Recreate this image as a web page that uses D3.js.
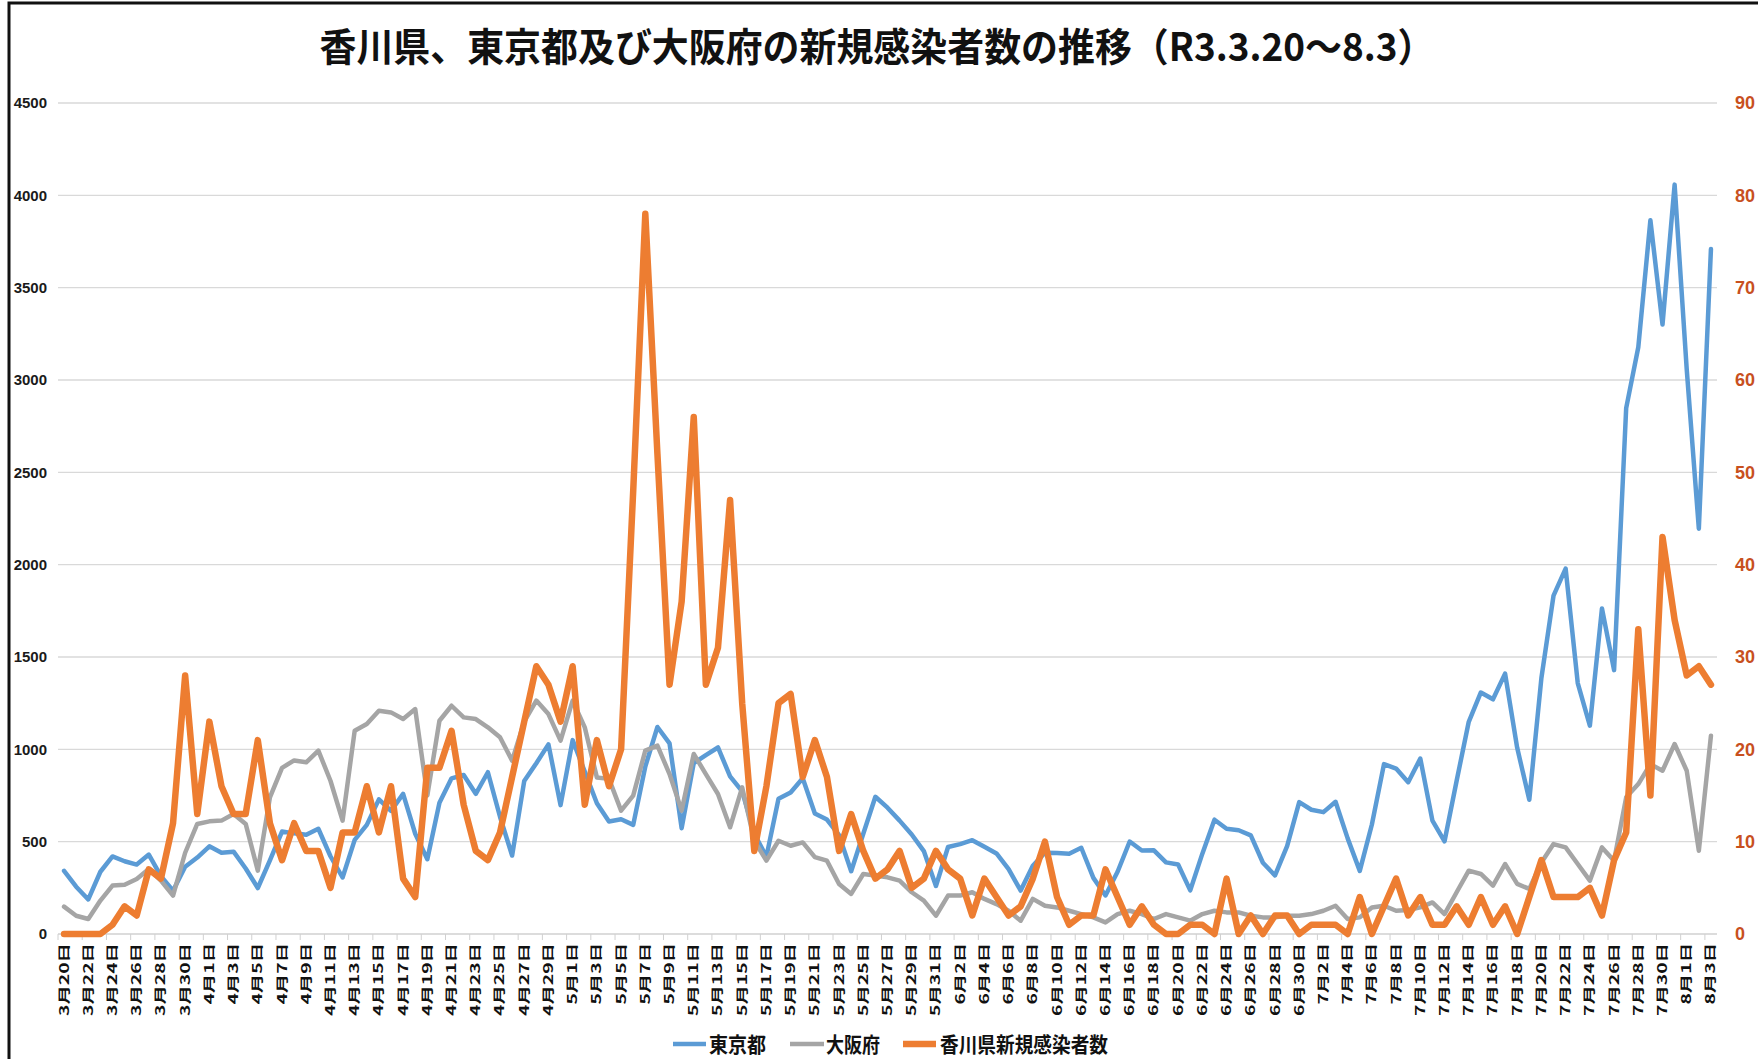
<!DOCTYPE html>
<html><head><meta charset="utf-8">
<script src="https://cdn.jsdelivr.net/npm/d3@7"></script>
<style>body{margin:0;background:#fff} svg{display:block}</style>
</head><body><svg id="c" width="1758" height="1059"></svg>
<script>
const title = "香川県、東京都及び大阪府の新規感染者数の推移（R3.3.20～8.3）";
const monthSpans = [[3,20,31],[4,1,30],[5,1,31],[6,1,30],[7,1,31],[8,1,3]];
const categories = monthSpans.flatMap(([m,a,b]) => d3.range(a,b+1).map(d => `${m}月${d}日`));
const seriesNames = ["東京都","大阪府","香川県新規感染者数"];
const tokyo = [342,256,187,337,420,394,376,430,313,234,364,414,
 475,440,446,355,249,399,555,545,537,570,421,306,510,591,729,667,759,543,405,711,843,861,759,876,635,425,828,925,1027,698,
 1050,879,708,609,621,591,907,1121,1032,573,925,969,1010,854,772,542,419,732,766,843,652,620,535,340,543,743,684,614,539,449,260,
 471,487,508,472,436,351,235,369,440,439,435,467,304,209,337,501,452,453,388,376,236,435,619,570,562,534,386,317,476,714,
 673,660,716,518,342,593,920,896,822,950,614,502,830,1149,1308,1271,1410,1008,727,1387,1832,1979,1359,1128,1763,1429,2848,3177,3865,3300,4058,
 3058,2195,3709];
const osaka = [148,99,81,181,262,267,298,352,289,208,440,596,
 610,614,650,596,343,740,900,940,930,993,830,614,1101,1137,1209,1200,1164,1218,750,1155,1236,1173,1164,1119,1065,939,1150,1264,1191,1047,
 1264,1119,848,840,668,749,993,1020,866,668,975,866,758,578,794,505,397,505,478,496,416,397,271,217,325,316,307,289,226,181,99,
 208,208,226,190,162,126,72,190,153,144,126,108,90,63,108,126,108,81,108,90,72,108,126,117,117,99,90,90,99,99,
 108,126,153,81,90,144,153,126,130,144,171,108,226,343,325,262,379,271,244,387,487,469,379,289,469,397,740,812,920,884,1029,
 884,451,1074];
const kagawa = [0,0,0,0,1,3,2,7,6,12,28,13,
 23,16,13,13,21,12,8,12,9,9,5,11,11,16,11,16,6,4,18,18,22,14,9,8,11,17,23,29,27,23,
 29,14,21,16,20,48,78,52,27,36,56,27,31,47,25,9,16,25,26,17,21,17,9,13,9,6,7,9,5,6,9,
 7,6,2,6,4,2,3,6,10,4,1,2,2,7,4,1,3,1,0,0,1,1,0,6,0,2,0,2,2,0,
 1,1,1,0,4,0,3,6,2,4,1,1,3,1,4,1,3,0,4,8,4,4,4,5,2,8,11,33,15,43,34,
 28,29,27];
const leftTicks = d3.range(0, 4501, 500);
const rightTicks = d3.range(0, 91, 10);
const colors = ["#5B9BD5","#A5A5A5","#ED7D31"];

const svg = d3.select("#c");
// frame
svg.append("rect").attr("x",9).attr("y",3).attr("width",1800).attr("height",1100)
  .attr("fill","none").attr("stroke","#111").attr("stroke-width",3);

const x = d3.scalePoint().domain(categories).range([58,1717]).padding(0.5);
const yL = d3.scaleLinear().domain([0,4500]).range([934,103]);
const yR = d3.scaleLinear().domain([0,90]).range([934,103]);

// title
svg.append("text").attr("x",877).attr("y",61).attr("text-anchor","middle")
  .attr("font-family","'Noto Sans CJK JP','Noto Sans',sans-serif").attr("font-weight","bold")
  .attr("font-size",39).attr("fill","#111")
  .attr("textLength",1115).attr("lengthAdjust","spacingAndGlyphs").text(title);

// gridlines
svg.append("g").selectAll("line").data(leftTicks.slice(1)).join("line")
  .attr("x1",58).attr("x2",1717).attr("y1",d=>yL(d)).attr("y2",d=>yL(d))
  .attr("stroke","#D9D9D9").attr("stroke-width",1.3);
// x axis line
svg.append("line").attr("x1",58).attr("x2",1717).attr("y1",yL(0)).attr("y2",yL(0))
  .attr("stroke","#D0D0D0").attr("stroke-width",1.3);
const step = x.step();
svg.append("g").selectAll("line").data(d3.range(0, categories.length+1, 2)).join("line")
  .attr("x1",i=>58+i*step).attr("x2",i=>58+i*step).attr("y1",yL(0)).attr("y2",yL(0)+6)
  .attr("stroke","#D0D0D0").attr("stroke-width",1);

// left tick labels
svg.append("g").selectAll("text").data(leftTicks).join("text")
  .attr("x",47).attr("y",d=>yL(d)).attr("dy","0.35em").attr("text-anchor","end")
  .attr("font-family","'Liberation Sans',Arial,sans-serif")
  .attr("font-weight","bold").attr("font-size",15).attr("fill","#1a1a1a").text(d=>d);
// right tick labels
svg.append("g").selectAll("text").data(rightTicks).join("text")
  .attr("x",1735).attr("y",d=>yR(d)).attr("dy","0.35em").attr("text-anchor","start")
  .attr("font-family","'Liberation Sans',Arial,sans-serif")
  .attr("font-weight","bold").attr("font-size",18).attr("fill","#C8501E").text(d=>d);

// x labels every 2 categories
svg.append("g").selectAll("text").data(categories.filter((c,i)=>i%2===0)).join("text")
  .attr("transform",d=>`translate(${x(d)+4.5},943) rotate(-90) scale(1.55,1)`)
  .attr("text-anchor","end")
  .attr("font-family","'Noto Sans CJK JP',sans-serif").attr("font-weight","bold")
  .attr("font-size",12.5).attr("fill","#111").text(d=>d);

// lines
const series = [
  {name:seriesNames[0], values:tokyo, y:yL, color:colors[0], w:4.5},
  {name:seriesNames[1], values:osaka, y:yL, color:colors[1], w:4.5},
  {name:seriesNames[2], values:kagawa, y:yR, color:colors[2], w:6.5}
];
series.forEach(s=>{
  const line = d3.line().x((d,i)=>x(categories[i])).y(d=>s.y(d));
  svg.append("path").datum(s.values).attr("d",line).attr("fill","none")
    .attr("stroke",s.color).attr("stroke-width",s.w)
    .attr("stroke-linejoin","round").attr("stroke-linecap","round");
});

// legend
const legend = [
  {x1:673,x2:706,tx:709,tl:57},
  {x1:790,x2:824,tx:826,tl:54},
  {x1:903,x2:936,tx:940,tl:168}
];
legend.forEach((l,i)=>{
  svg.append("line").attr("x1",l.x1).attr("x2",l.x2).attr("y1",1044).attr("y2",1044)
    .attr("stroke",series[i].color).attr("stroke-width",series[i].w);
  svg.append("text").attr("x",l.tx).attr("y",1044).attr("dy","0.36em")
    .attr("font-family","'Noto Sans CJK JP',sans-serif").attr("font-weight","bold")
    .attr("font-size",21).attr("fill","#111")
    .attr("textLength",l.tl).attr("lengthAdjust","spacingAndGlyphs").text(series[i].name);
});
</script></body></html>
